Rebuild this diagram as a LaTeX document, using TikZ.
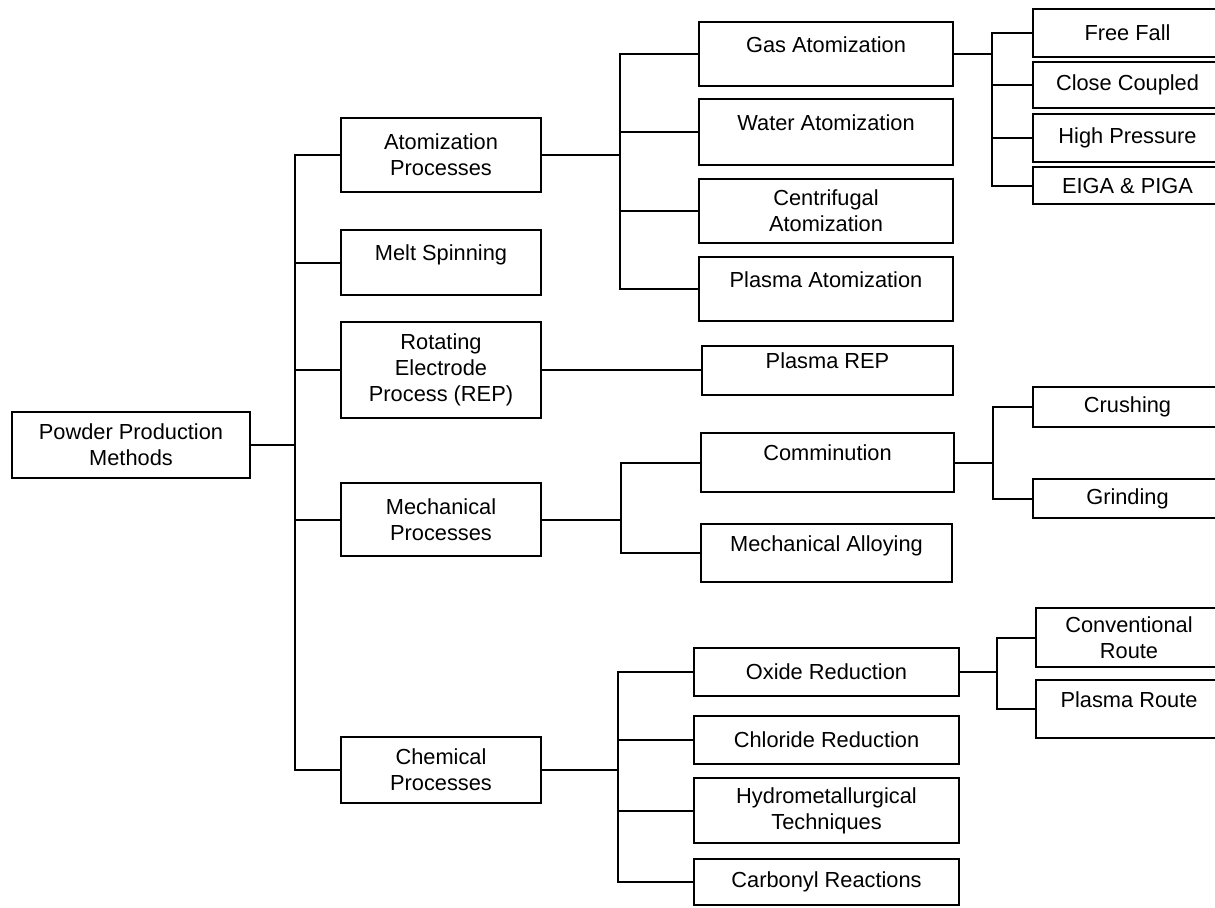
\documentclass[tikz,border=0pt]{standalone}
\usepackage{fontspec}
\setmainfont{Liberation Sans}
\begin{document}
\begin{tikzpicture}[
  x=0.5pt, y=-0.5pt,
  box/.style={
    draw,
    rectangle,
    line width=1pt,
    inner sep=0pt,
    align=center,
    font=\fontsize{10.9}{13}\selectfont
  },
  upper/.style={text height=8pt, text depth=10pt},
  link/.style={line width=1pt}
]
  \clip (0,0) rectangle (1215,907);
  \useasboundingbox (0,0) rectangle (1215,907);

  % root
  \node[box, minimum width=119pt, minimum height=33pt] (root) at (131,445) {Powder Production\\Methods};

  % first level
  \node[box, minimum width=100pt, minimum height=37pt]   (atom) at (441,155)   {Atomization\\Processes};
  \node[box, upper, minimum width=100pt, minimum height=32.5pt] (melt) at (441,262.5) {Melt Spinning};
  \node[box, minimum width=100pt, minimum height=48pt]   (rep)  at (441,370)   {Rotating\\Electrode\\Process (REP)};
  \node[box, minimum width=100pt, minimum height=36.5pt] (mech) at (441,519.5) {Mechanical\\Processes};
  \node[box, minimum width=100pt, minimum height=33pt]   (chem) at (441,770)   {Chemical\\Processes};

  % second level
  \node[box, upper, minimum width=127pt, minimum height=32pt] (gas)   at (826,54)  {Gas Atomization};
  \node[box, upper, minimum width=127pt, minimum height=33pt] (water) at (826,132) {Water Atomization};
  \node[box, minimum width=127pt, minimum height=32pt]        (cent)  at (826,211) {Centrifugal\\Atomization};
  \node[box, upper, minimum width=127pt, minimum height=32pt] (plat)  at (826,289) {Plasma Atomization};
  \node[box, upper, minimum width=125.5pt, minimum height=24.5pt] (prep) at (827.5,370) {Plasma REP};
  \node[box, upper, minimum width=126.5pt, minimum height=29.5pt] (comm)   at (827.5,462.5) {Comminution};
  \node[box, upper, minimum width=125.5pt, minimum height=29pt]   (malloy) at (826.5,553)   {Mechanical Alloying};
  \node[box, minimum width=132.5pt, minimum height=24pt]   (oxide) at (826.5,672)   {Oxide Reduction};
  \node[box, minimum width=132.5pt, minimum height=24pt]   (chlor) at (826.5,740)   {Chloride Reduction};
  \node[box, minimum width=132.5pt, minimum height=32.5pt] (hydro) at (826.5,810.5) {Hydrometallurgical\\Techniques};
  \node[box, minimum width=132.5pt, minimum height=23pt]   (carb)  at (826.5,882)   {Carbonyl Reactions};

  % third level, cut off at the right edge
  \node[box, minimum width=94.5pt, minimum height=24pt]   (free)  at (1127.5,33)    {Free Fall};
  \node[box, minimum width=94.5pt, minimum height=23pt]   (close) at (1127.5,85)    {Close Coupled};
  \node[box, minimum width=94.5pt, minimum height=24pt]   (high)  at (1127.5,138)   {High Pressure};
  \node[box, minimum width=94.5pt, minimum height=18.5pt] (eiga)  at (1127.5,185.5) {EIGA \& PIGA};
  \node[box, minimum width=94.5pt, minimum height=20pt]   (crush) at (1127.5,407)   {Crushing};
  \node[box, minimum width=94.5pt, minimum height=19.5pt] (grind) at (1127.5,498.5) {Grinding};
  \node[box, minimum width=93pt, minimum height=29.5pt]   (conv)  at (1129,637.5)   {Conventional\\Route};
  \node[box, upper, minimum width=93pt, minimum height=29pt] (proute) at (1129,709) {Plasma Route};

  % junctions
  \coordinate (j0) at (295,445);
  \coordinate (j1) at (620,155);
  \coordinate (j2) at (621,519.5);
  \coordinate (j3) at (618,770);
  \coordinate (j4) at (992,54);
  \coordinate (j5) at (993,462.5);
  \coordinate (j6) at (997,672);

  \draw[link] (root.east) -- (j0);
  \draw[link] (atom.west) -| (j0);
  \draw[link] (melt.west) -| (j0);
  \draw[link] (rep.west)  -| (j0);
  \draw[link] (mech.west) -| (j0);
  \draw[link] (chem.west) -| (j0);

  \draw[link] (atom.east)  -- (j1);
  \draw[link] (gas.west)   -| (j1);
  \draw[link] (water.west) -| (j1);
  \draw[link] (cent.west)  -| (j1);
  \draw[link] (plat.west)  -| (j1);

  \draw[link] (rep.east) -- (prep.west);

  \draw[link] (mech.east)   -- (j2);
  \draw[link] (comm.west)   -| (j2);
  \draw[link] (malloy.west) -| (j2);

  \draw[link] (chem.east)  -- (j3);
  \draw[link] (oxide.west) -| (j3);
  \draw[link] (chlor.west) -| (j3);
  \draw[link] (hydro.west) -| (j3);
  \draw[link] (carb.west)  -| (j3);

  \draw[link] (gas.east)   -- (j4);
  \draw[link] (free.west)  -| (j4);
  \draw[link] (close.west) -| (j4);
  \draw[link] (high.west)  -| (j4);
  \draw[link] (eiga.west)  -| (j4);

  \draw[link] (comm.east)  -- (j5);
  \draw[link] (crush.west) -| (j5);
  \draw[link] (grind.west) -| (j5);

  \draw[link] (oxide.east)  -- (j6);
  \draw[link] (conv.west)   -| (j6);
  \draw[link] (proute.west) -| (j6);
\end{tikzpicture}
\end{document}
